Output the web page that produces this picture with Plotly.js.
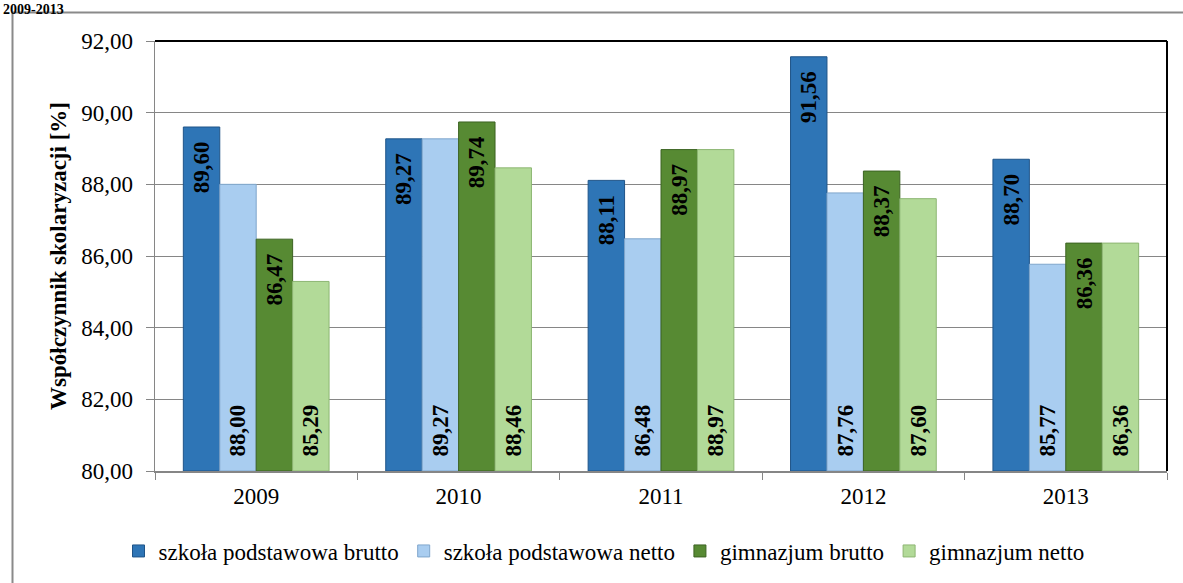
<!DOCTYPE html>
<html>
<head>
<meta charset="utf-8">
<script src="https://cdn.plot.ly/plotly-3.0.1.min.js"></script>
<style>
body { margin: 0; background: #fff; }
#chart { width: 1183px; height: 583px; }
</style>
</head>
<body>
<div id="chart"></div>
<script>
var years = ['2009', '2010', '2011', '2012', '2013'];
var seriesNames = ['szkoła podstawowa brutto', 'szkoła podstawowa netto', 'gimnazjum brutto', 'gimnazjum netto'];
var spBrutto = [89.60, 89.27, 88.11, 91.56, 88.70];
var spNetto = [88.00, 89.27, 86.48, 87.76, 85.77];
var gimBrutto = [86.47, 89.74, 88.97, 88.37, 86.36];
var gimNetto = [85.29, 88.46, 88.97, 87.60, 86.36];

var axisBase = 80;
var colors = ['#2e75b6', '#a9cdf0', '#578a33', '#b2da98'];
var edges = ['#1f5488', '#7fa6cc', '#3c6322', '#8db673'];
var anchors = ['end', 'start', 'end', 'start'];
var serif = 'Liberation Serif';
var pad = '\u00a0\u00a0';

var data = [spBrutto, spNetto, gimBrutto, gimNetto].map(function (vals, i) {
    return {
        type: 'bar',
        name: seriesNames[i],
        x: years,
        base: axisBase,
        y: vals.map(function (v) { return v - axisBase; }),
        customdata: vals,
        texttemplate: pad + '<b>%{customdata:.2f}</b>' + pad,
        textposition: 'inside',
        insidetextanchor: anchors[i],
        textangle: -90,
        constraintext: 'none',
        textfont: { family: serif, size: 23, color: '#000' },
        marker: { color: colors[i], line: { color: edges[i], width: 1 } }
    };
});

// paper coords from pixels (plot area 155..1167 x, 41..472 y)
function px(x) { return (x - 155) / 1012; }
function py(y) { return (472 - y) / 431; }

var layout = {
    width: 1183,
    height: 583,
    margin: { l: 155, r: 16, t: 41, b: 111 },
    paper_bgcolor: '#fff',
    plot_bgcolor: '#fff',
    separators: ',.',
    barmode: 'group',
    bargap: 0.28,
    bargroupgap: 0,
    font: { family: serif, size: 23, color: '#000' },
    showlegend: true,
    legend: {
        orientation: 'h',
        x: px(604), xanchor: 'center',
        y: py(551), yanchor: 'middle',
        font: { family: serif, size: 23, color: '#000' },
        itemwidth: 30,
        traceorder: 'normal'
    },
    xaxis: {
        type: 'category',
        showline: true,
        linecolor: '#868686',
        linewidth: 1.5,
        ticks: 'outside',
        tickson: 'boundaries',
        ticklen: 7,
        tickcolor: '#868686',
        ticklabelstandoff: 4,
        showgrid: false,
        tickfont: { family: serif, size: 23, color: '#000' },
        range: [-0.5, 4.5]
    },
    yaxis: {
        range: [80, 92],
        dtick: 2,
        tickformat: '.2f',
        showline: true,
        linecolor: '#868686',
        linewidth: 1.5,
        ticks: 'outside',
        ticklen: 8,
        tickcolor: '#868686',
        ticklabelstandoff: 8,
        showgrid: true,
        gridcolor: '#868686',
        gridwidth: 1,
        zeroline: false,
        tickfont: { family: serif, size: 23, color: '#000' },
        title: {
            text: '<b>Współczynnik skolaryzacji [%]</b>',
            font: { family: serif, size: 23, color: '#000' },
            standoff: 8
        }
    },
    shapes: [
        // outer frame
        { type: 'rect', xref: 'paper', yref: 'paper', x0: px(12.5), x1: px(1195), y0: py(600), y1: py(12.5),
          line: { color: '#8a8a8a', width: 2 }, layer: 'below' },
        // top and right border of the plot area
        { type: 'line', xref: 'paper', yref: 'paper', x0: 0, x1: 1, y0: 1, y1: 1, line: { color: '#000', width: 2 } },
        { type: 'line', xref: 'paper', yref: 'paper', x0: 1, x1: 1, y0: 0, y1: 1, line: { color: '#000', width: 2 } }
    ],
    annotations: [
        { text: '<b>2009-2013</b>', xref: 'paper', yref: 'paper', x: px(1), y: py(0),
          xanchor: 'left', yanchor: 'top', showarrow: false,
          font: { family: serif, size: 14, color: '#000' } }
    ]
};

Plotly.newPlot('chart', data, layout, { staticPlot: true, displayModeBar: false });
</script>
</body>
</html>
